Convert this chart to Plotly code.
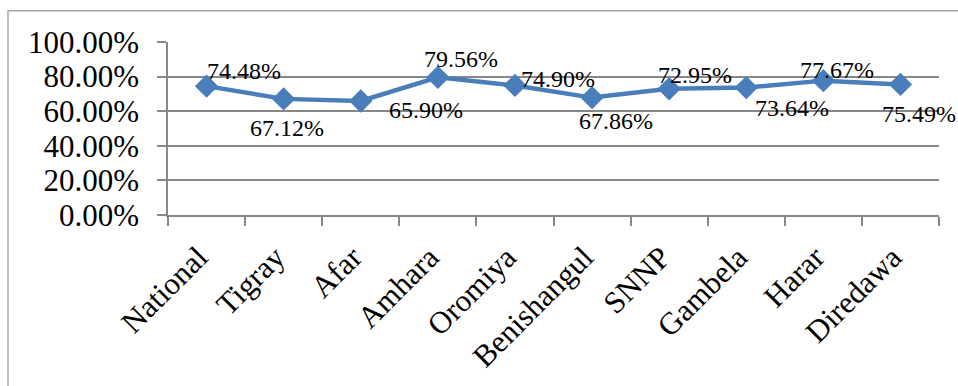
import plotly.graph_objects as go

# Regions and their shares
regions = ["National", "Tigray", "Afar", "Amhara", "Oromiya",
           "Benishangul", "SNNP", "Gambela", "Harar", "Diredawa"]
shares = [0.7448, 0.6712, 0.6590, 0.7956, 0.7490,
          0.6786, 0.7295, 0.7364, 0.7767, 0.7549]

# Pixel offsets of each value label from its marker (right, down)
label_dx = [37, 3, 65, 23, 43, 24, 26, 46, 14, 19]
label_dy = [-15, 29, 9, -18, -6, 23, -14, 20, -11, 30]

SERIF = "Liberation Serif"
LINE_BLUE = "#4A7EBB"
GRID = "#888888"

fig = go.Figure()
fig.add_trace(go.Scatter(
    x=regions, y=shares, mode="lines+markers",
    line=dict(color=LINE_BLUE, width=4.5),
    marker=dict(symbol="diamond", size=18, color=LINE_BLUE),
    cliponaxis=False, showlegend=False,
))

for name, val, dx, dy in zip(regions, shares, label_dx, label_dy):
    fig.add_annotation(
        x=name, y=val, text=f"{val * 100:.2f}%", showarrow=False,
        xanchor="center", yanchor="middle", xshift=dx, yshift=-dy,
        font=dict(family=SERIF, size=24, color="black"),
    )

W, H = 958, 386
L, R, T, B = 168, 19, 42, 169
pw, ph = W - L - R, H - T - B

# Outer chart frame (only its left and top edges fall inside the page)
fig.add_shape(
    type="rect", xref="paper", yref="paper",
    x0=(8 - L) / pw, x1=(W + 6 - L) / pw,
    y0=1 - (H + 6 - T) / ph, y1=1 + (T - 10.5) / ph,
    line=dict(color="#A6A6A6", width=1.5), layer="below",
)

fig.update_layout(
    width=W, height=H,
    margin=dict(l=L, r=R, t=T, b=B, pad=0),
    paper_bgcolor="white", plot_bgcolor="white",
    font=dict(family=SERIF, color="black"),
)
fig.update_xaxes(
    type="category", range=[-0.5, len(regions) - 0.5],
    showgrid=False, showline=True, linecolor=GRID, linewidth=1.5,
    ticks="outside", tickson="boundaries", ticklen=9, tickcolor=GRID, tickwidth=1.5,
    tickangle=-45, ticklabelstandoff=10, ticklabelshift=-8,
    tickfont=dict(family=SERIF, size=31, color="black"),
)
fig.update_yaxes(
    range=[0, 1], dtick=0.2, tickformat=".2%",
    showgrid=True, gridcolor=GRID, gridwidth=1.5, zeroline=False,
    showline=True, linecolor=GRID, linewidth=1.5,
    ticks="outside", ticklen=9, tickcolor=GRID, tickwidth=1.5,
    ticklabelstandoff=12,
    tickfont=dict(family=SERIF, size=31, color="black"),
)

fig.write_html("out.html")
